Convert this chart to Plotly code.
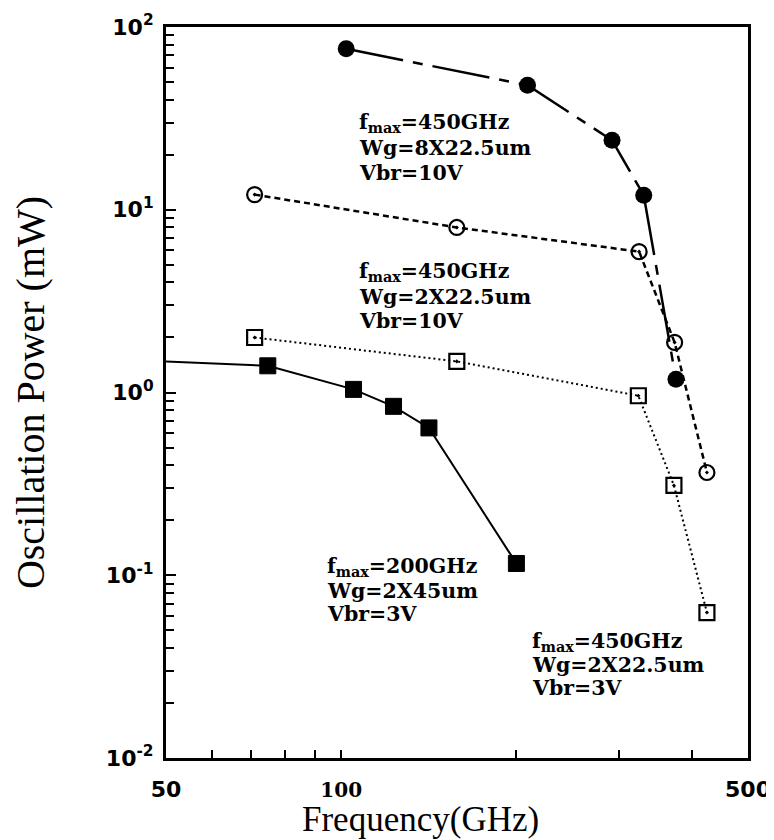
import plotly.graph_objects as go

# ---- data ----
freq_8x225_10v = [102, 209, 292, 331, 376]
pow_8x225_10v = [76, 48, 24, 12.0, 1.18]

freq_2x225_10v = [71, 158, 325, 374, 425]
pow_2x225_10v = [12.1, 8.0, 5.9, 1.88, 0.365]

freq_2x225_3v = [71, 158, 324, 373, 425]
pow_2x225_3v = [2.0, 1.48, 0.96, 0.31, 0.0625]

freq_2x45_3v = [50, 74.8, 105, 123, 141.5, 200]
pow_2x45_3v = [1.48, 1.40, 1.04, 0.84, 0.64, 0.116]

y_tickvals = [0.01, 0.1, 1, 10, 100]
y_ticktext = ["10<sup>-2</sup>", "10<sup>-1</sup>", "10<sup>0</sup>", "10<sup>1</sup>", "10<sup>2</sup>"]
x_tickvals = [50, 100, 500]
x_ticktext = ["50", "<span style=\"font-family:DejaVu Serif;font-size:20px\">100</span>", "500"]

# text blocks: lines, left x, centre y of each line (page pixels)
labels = [
    (["f<sub>max</sub>=450GHz", "Wg=8X22.5um", "Vbr=10V"], 357, [123, 148, 173]),
    (["f<sub>max</sub>=450GHz", "Wg=2X22.5um", "Vbr=10V"], 357, [272, 297, 321]),
    (["f<sub>max</sub>=200GHz", "Wg=2X45um", "Vbr=3V"], 325, [567, 591, 614]),
    (["f<sub>max</sub>=450GHz", "Wg=2X22.5um", "Vbr=3V"], 530, [642, 665, 688]),
]

# page has an 8px body margin around the figure
OFF = 8
W, H = 766, 832
L, R, T, B = 166, 748, 27, 758   # plot area in page pixels

fig = go.Figure()

fig.add_trace(go.Scatter(
    x=freq_8x225_10v, y=pow_8x225_10v, mode="lines+markers",
    line=dict(color="black", width=2.5, dash="58px,10px,10px,10px"),
    marker=dict(symbol="circle", size=17, color="black"),
))
fig.add_trace(go.Scatter(
    x=freq_2x225_10v, y=pow_2x225_10v, mode="lines+markers",
    line=dict(color="black", width=2.5, dash="6px,4px"),
    marker=dict(symbol="circle-open-dot", size=15, color="black", line=dict(width=2.2)),
))
fig.add_trace(go.Scatter(
    x=freq_2x225_3v, y=pow_2x225_3v, mode="lines+markers",
    line=dict(color="black", width=2, dash="2px,3px"),
    marker=dict(symbol="square-open-dot", size=15, color="black", line=dict(width=2.2)),
))
fig.add_trace(go.Scatter(
    x=freq_2x45_3v, y=pow_2x45_3v, mode="lines+markers", opacity=1,
    line=dict(color="#000000", width=2),
    marker=dict(symbol="square", size=[0, 16, 16, 16, 16, 16], color="#000000",
                opacity=1, line=dict(color="#000000", width=1)),
))

for lines, px, pys in labels:
    for txt, py in zip(lines, pys):
        fig.add_annotation(
            text=txt, xref="paper", yref="paper",
            x=(px - L) / (R - L), y=(B - py) / (B - T),
            xanchor="left", yanchor="middle", showarrow=False,
            font=dict(family="DejaVu Serif", size=20.5, color="black", weight="bold"),
        )

# x-axis title placed as free text (it sits left of the plot centre in the reference)
fig.add_annotation(
    text="Frequency(GHz)", xref="paper", yref="paper",
    x=(420 - L) / (R - L), y=(B - 820) / (B - T),
    xanchor="center", yanchor="middle", showarrow=False,
    font=dict(family="Liberation Serif", size=35, color="black"),
)

fig.update_xaxes(
    type="log", range=[1.69897, 2.69897], automargin=False,
    tickvals=x_tickvals, ticktext=x_ticktext, ticklabeloverflow="allow",
    ticks="inside", ticklen=8, tickwidth=2, tickcolor="black",
    minor=dict(tickvals=[60, 70, 80, 90, 200, 300, 400], ticks="inside", ticklen=8, tickwidth=2, tickcolor="black"),
    showline=True, linewidth=3, linecolor="black", mirror=True,
    showgrid=False, zeroline=False,
    tickfont=dict(family="DejaVu Sans", size=22, color="black", weight="bold"),
    ticklabelstandoff=10,
)
fig.update_yaxes(
    type="log", range=[-2, 2], automargin=False,
    tickvals=y_tickvals, ticktext=y_ticktext, ticklabeloverflow="allow",
    ticks="inside", ticklen=10, tickwidth=2, tickcolor="black",
    minor=dict(dtick="D1", ticks="inside", ticklen=8, tickwidth=2, tickcolor="black"),
    showline=True, linewidth=3, linecolor="black", mirror=True,
    showgrid=False, zeroline=False,
    tickfont=dict(family="DejaVu Sans", size=22, color="black", weight="bold"),
    ticklabelstandoff=5,
    title=dict(text="Oscillation Power (mW)", standoff=59,
               font=dict(family="Liberation Serif", size=40, color="black")),
)

fig.update_layout(
    width=W, height=H,
    margin=dict(l=L - OFF, r=W - (R - OFF), t=T - OFF, b=H - (B - OFF), autoexpand=False),
    paper_bgcolor="white", plot_bgcolor="white",
    showlegend=False,
)

fig.write_html("out.html")
